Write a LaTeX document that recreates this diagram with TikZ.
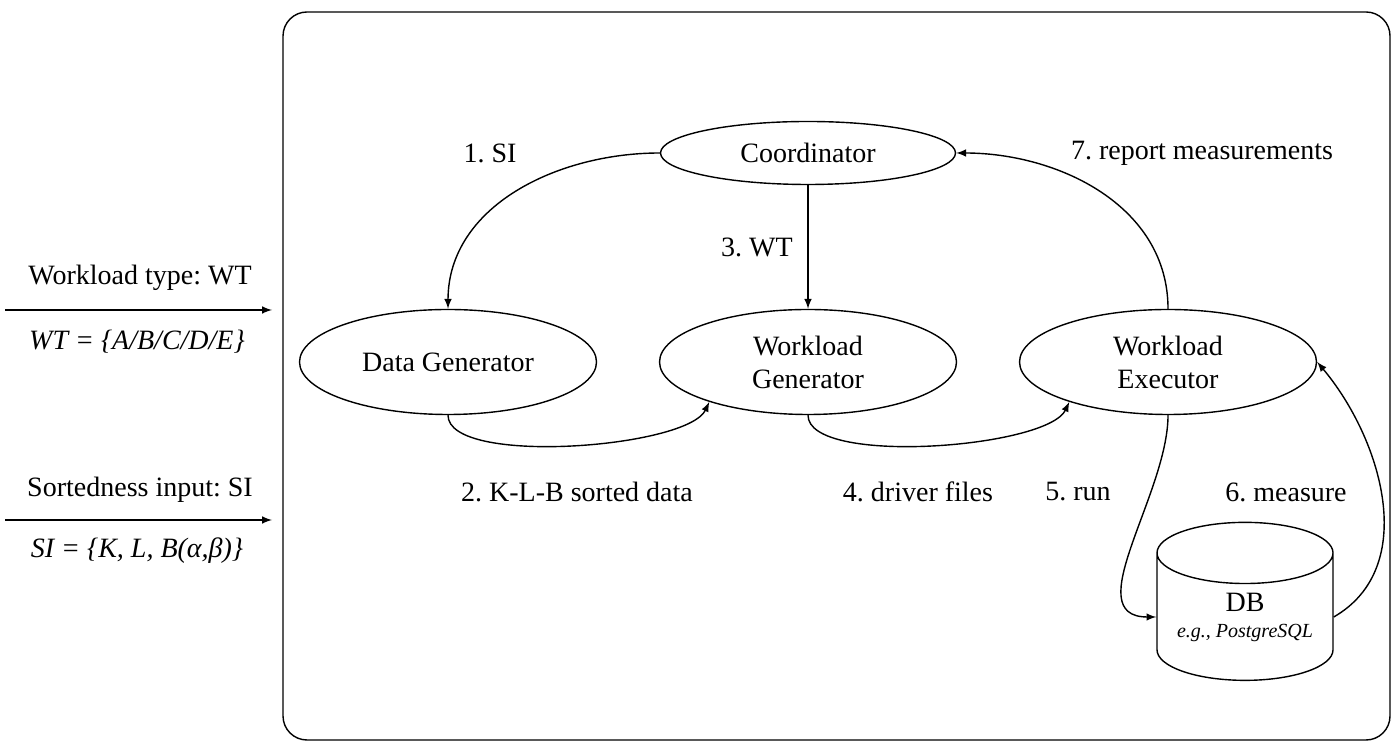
\documentclass[tikz,border=0pt]{standalone}
\usepackage{fontspec}
\setmainfont{Liberation Serif}
\usetikzlibrary{arrows, shapes.geometric}
\frenchspacing

\begin{document}
\begin{tikzpicture}[>=latex, x=0.5pt, y=0.5pt, node distance=180pt, line width=0.7pt, font=\fontsize{14}{16.5}\selectfont]
\tikzstyle{module}=[ellipse, draw=black, fill=white, minimum width=148.5pt, minimum height=52.5pt, inner sep=0pt, align=center]
\tikzstyle{store}=[cylinder, shape border rotate=90, aspect=0.45, draw=black, minimum width=88pt, minimum height=79pt, inner sep=0pt, align=center]
\tikzstyle{lbl}=[inner sep=1pt]

\useasboundingbox (0,0) rectangle (1400,748);
\draw[rounded corners=12pt] (283,8) rectangle (1390,736);

\node[module] (dg) at (448,386) {Data Generator};
\node[module] (wg) [right of=dg] {Workload\\Generator};
\node[module] (we) [right of=wg] {Workload\\Executor};
\node[module][minimum width=147.5pt, minimum height=31.5pt] (co) [above of=wg, node distance=104.5pt] {Coordinator};
\node[store] (db) at (1245,131) {DB\\[-3.5pt]{\fontsize{10}{12}\selectfont\itshape e.g., PostgreSQL}};

% inputs on the left
\coordinate (wtS) at (5,438);
\coordinate (wtE) at (272,438);
\coordinate (siS) at (5,228);
\coordinate (siE) at (272,228);
\node[lbl] (wtlbl) at (140,470) {Workload type: WT};
\node[lbl] (wtset) at (137,406) {\itshape WT = \{A/B/C/D/E\}};
\node[lbl] (silbl) at (140,258) {Sortedness input: SI};
\node[lbl] (siset) at (137,197) {\itshape SI = \{K, L, B(α,β)\}};
\draw[->] (wtS) -- (wtE);
\draw[->] (siS) -- (siE);

% step labels
\node[lbl] (s1) at (490,595) {1. SI};
\node[lbl] (s2) at (577,256) {2. K-L-B sorted data};
\node[lbl] (s3) at (757,501) {3. WT};
\node[lbl] (s4) at (918,256) {4. driver files};
\node[lbl] (s5) at (1078,256) {5. run};
\node[lbl] (s6) at (1286,256) {6. measure};
\node[lbl] (s7) at (1202,595) {7. report measurements};

\path[->] (co.west) edge[out=180, in=90] (dg.north);
\path[->] (dg.south) edge[out=-90, in=-115, looseness=0.5] (wg.202);
\path[->] (co) edge (wg);
\path[->] (wg.south) edge[out=-90, in=-115, looseness=0.5] (we.202);
\path[->] (we.south) edge[out=-90, in=180] (db.west);
\path[->] (db.east) edge[out=30, in=-50] (we.east);
\path[->] (we.north) edge[out=90, in=0] (co.east);
\end{tikzpicture}
\end{document}
